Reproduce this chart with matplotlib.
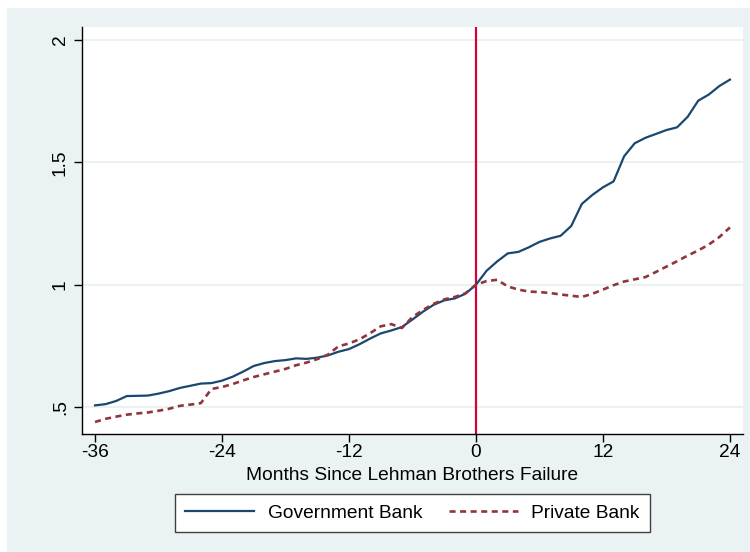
import matplotlib
matplotlib.use("Agg")
import matplotlib.pyplot as plt
import matplotlib.patches as patches
import numpy as np

plt.rcParams['font.family'] = ['Liberation Sans', 'DejaVu Sans']

months = np.arange(-36, 25)

gov_bank = [0.507, 0.512, 0.525, 0.545, 0.546, 0.547, 0.555, 0.565, 0.578, 0.587,
            0.596, 0.598, 0.608, 0.624, 0.645, 0.668, 0.680, 0.688, 0.692, 0.699,
            0.697, 0.702, 0.711, 0.726, 0.737, 0.757, 0.780, 0.801, 0.813, 0.827,
            0.858, 0.890, 0.918, 0.936, 0.944, 0.963, 1.000, 1.057, 1.095, 1.128,
            1.134, 1.153, 1.175, 1.189, 1.200, 1.240, 1.330, 1.367, 1.398, 1.422,
            1.525, 1.578, 1.600, 1.616, 1.632, 1.643, 1.686, 1.752, 1.777, 1.812,
            1.838]

priv_bank = [0.439, 0.452, 0.461, 0.469, 0.474, 0.478, 0.485, 0.493, 0.505, 0.510,
             0.516, 0.574, 0.582, 0.594, 0.609, 0.623, 0.634, 0.645, 0.656, 0.671,
             0.682, 0.696, 0.714, 0.748, 0.760, 0.777, 0.802, 0.830, 0.839, 0.823,
             0.868, 0.897, 0.922, 0.940, 0.950, 0.965, 1.000, 1.015, 1.020, 0.993,
             0.980, 0.972, 0.970, 0.966, 0.960, 0.955, 0.950, 0.963, 0.980, 0.998,
             1.013, 1.022, 1.031, 1.052, 1.074, 1.096, 1.119, 1.140, 1.164, 1.195,
             1.234]

xticks = [-36, -24, -12, 0, 12, 24]
yticks = [0.5, 1, 1.5, 2]
ytick_labels = ['.5', '1', '1.5', '2']

bg = '#eaf2f3'
fs = 13.8

fig = plt.figure(figsize=(7.5, 5.52), dpi=100, facecolor='white')
# stata-like outer panel, kept behind the axes
fig.patches.append(patches.Rectangle((7 / 750, 0), 1, 1 - 8 / 552, transform=fig.transFigure,
                                     facecolor=bg, edgecolor='none', zorder=-5))

ax = fig.add_axes([82 / 750, 1 - 434 / 552, (743 - 82) / 750, (434 - 27) / 552])
ax.set_facecolor('white')

for y in yticks:
    ax.axhline(y, color=bg, lw=1.5, zorder=1)
ax.axvline(0, color='#d8003a', lw=1.6, zorder=2)

ax.plot(months, gov_bank, color='#1a476f', lw=1.6, label='Government Bank', zorder=3)
ax.plot(months, priv_bank, color='#90353b', lw=1.9, linestyle=(0, (2.3, 1.7)),
        label='Private Bank', zorder=3)

ax.set_xlim(-37.23, 25.23)
ax.set_ylim(0.39, 2.053)
ax.set_xticks(xticks)
ax.set_xticklabels([str(x) for x in xticks], fontsize=fs)
ax.set_yticks(yticks)
ax.set_yticklabels(ytick_labels, fontsize=fs, rotation=90, va='center')
ax.tick_params(direction='out', length=5.5, width=1, color='black', pad=2)
ax.tick_params(axis='y', pad=4)

for side in ['top', 'right']:
    ax.spines[side].set_visible(False)
for side in ['left', 'bottom']:
    ax.spines[side].set_color('black')
    ax.spines[side].set_linewidth(1.0)

ax.set_xlabel('Months Since Lehman Brothers Failure', fontsize=fs, labelpad=4)

leg = fig.legend(loc='center', bbox_to_anchor=(412.5 / 750, 1 - 513 / 552), ncol=2,
                 fontsize=fs, frameon=True, fancybox=False, framealpha=1, handlelength=3.6,
                 handletextpad=0.7, columnspacing=1.4, borderpad=0.55)
leg.get_frame().set_edgecolor('#404040')
leg.get_frame().set_linewidth(1.0)

fig.savefig('out.png', dpi=100, facecolor=fig.get_facecolor())
